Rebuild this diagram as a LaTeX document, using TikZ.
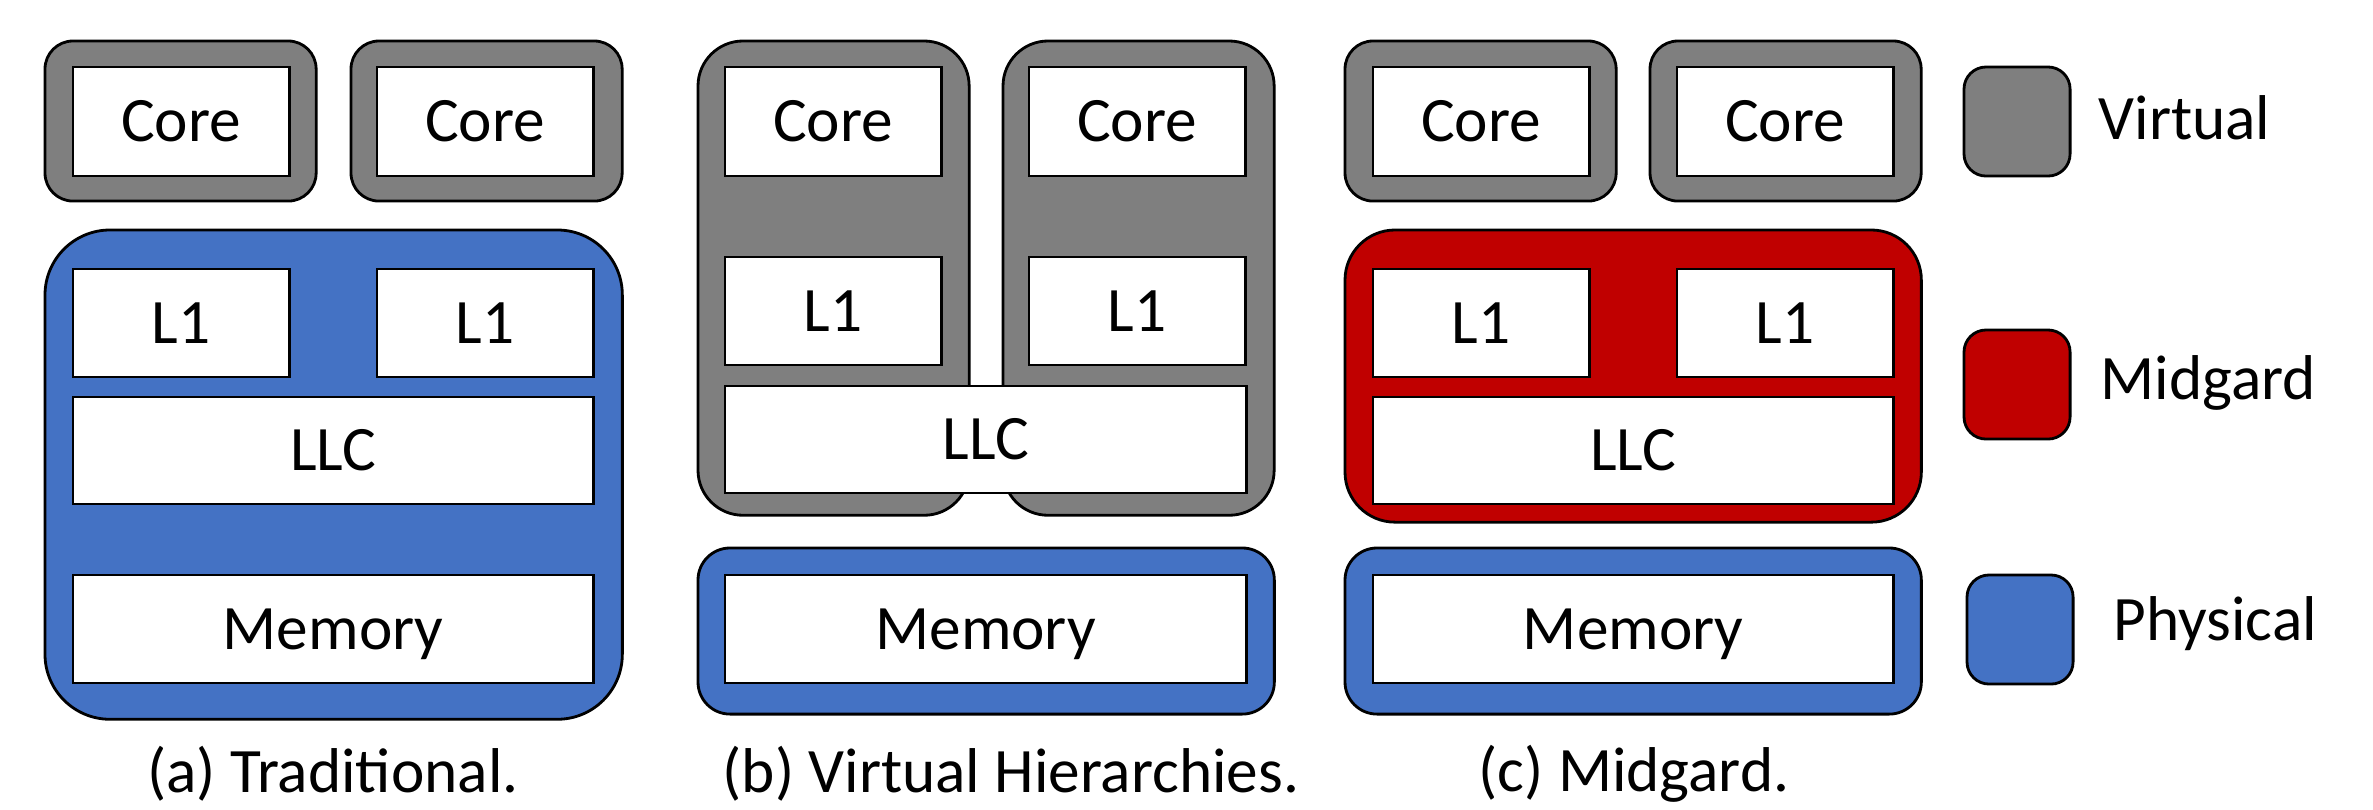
\documentclass[tikz,border=0pt]{standalone}
\usepackage{fontspec}
\setmainfont{Carlito}
\definecolor{virt}{HTML}{7F7F7F}
\definecolor{phys}{HTML}{4472C4}
\definecolor{midg}{HTML}{C00000}
\begin{document}
\begin{tikzpicture}[x=0.01cm,y=-0.01cm,
  every node/.style={font=\fontsize{18}{21}\selectfont},
  region/.style={draw=black,line width=0.8pt,inner sep=0pt,outer sep=0pt,anchor=north west},
  vreg/.style={region,fill=virt},
  preg/.style={region,fill=phys},
  mreg/.style={region,fill=midg},
  unit/.style={draw=black,line width=0.8pt,fill=white,inner sep=0pt,outer sep=0pt,anchor=north west,
    text height=14.4pt,text depth=3pt},
  corebox/.style={unit,minimum width=2.16cm,minimum height=1.09cm},
  l1box/.style={unit,minimum width=2.16cm,minimum height=1.08cm},
  widebox/.style={unit,minimum width=5.20cm,minimum height=1.08cm},
  caption/.style={inner sep=0pt},
  legtext/.style={inner sep=0pt,anchor=west}]
\useasboundingbox (0,0) rectangle (2373,810);

% ---------- (a) Traditional ----------
\node[vreg,rounded corners=0.28cm,minimum width=2.71cm,minimum height=1.60cm] (avl) at (45,41) {};
\node[vreg,rounded corners=0.28cm,minimum width=2.71cm,minimum height=1.60cm] (avr) at (351,41) {};
\node[corebox] (acorel) at (73,67) {Core};
\node[corebox] (acorer) at (377,67) {Core};
\node[preg,rounded corners=0.65cm,minimum width=5.77cm,minimum height=4.89cm] (aphys) at (45,230) {};
\node[l1box] (al1l) at (73,269) {L1};
\node[l1box] (al1r) at (377,269) {L1};
\node[widebox,minimum height=1.07cm] (allc) at (73,397) {LLC};
\node[widebox] (amem) at (73,575) {Memory};
\node[caption] (acap) at (333,774) {(a) Traditional.};

% ---------- (b) Virtual Hierarchies ----------
\node[vreg,rounded corners=0.45cm,minimum width=2.71cm,minimum height=4.74cm] (bvl) at (698,41) {};
\node[vreg,rounded corners=0.45cm,minimum width=2.71cm,minimum height=4.74cm] (bvr) at (1003,41) {};
\node[corebox] (bcorel) at (725,67) {Core};
\node[corebox] (bcorer) at (1029,67) {Core};
\node[l1box] (bl1l) at (725,257) {L1};
\node[l1box] (bl1r) at (1029,257) {L1};
\node[widebox,minimum width=5.21cm,minimum height=1.07cm] (bllc) at (725,386) {LLC};
\node[preg,rounded corners=0.32cm,minimum width=5.76cm,minimum height=1.66cm] (bphys) at (698,548) {};
\node[widebox,minimum width=5.21cm] (bmem) at (725,575) {Memory};
\node[caption] (bcap) at (1011,774) {(b) Virtual Hierarchies.};

% ---------- (c) Midgard ----------
\node[vreg,rounded corners=0.28cm,minimum width=2.71cm,minimum height=1.60cm] (cvl) at (1345,41) {};
\node[vreg,rounded corners=0.28cm,minimum width=2.71cm,minimum height=1.60cm] (cvr) at (1650,41) {};
\node[corebox] (ccorel) at (1373,67) {Core};
\node[corebox] (ccorer) at (1677,67) {Core};
\node[mreg,rounded corners=0.50cm,minimum width=5.76cm,minimum height=2.92cm] (cmid) at (1345,230) {};
\node[l1box] (cl1l) at (1373,269) {L1};
\node[l1box] (cl1r) at (1677,269) {L1};
\node[widebox,minimum height=1.07cm] (cllc) at (1373,397) {LLC};
\node[preg,rounded corners=0.32cm,minimum width=5.76cm,minimum height=1.66cm] (cphys) at (1345,548) {};
\node[widebox] (cmem) at (1373,575) {Memory};
\node[caption] (ccap) at (1634,774) {(c) Midgard.};

% ---------- legend ----------
\node[vreg,rounded corners=0.22cm,minimum width=1.06cm,minimum height=1.09cm] (kvirt) at (1964,67) {};
\node[mreg,rounded corners=0.22cm,minimum width=1.06cm,minimum height=1.09cm] (kmid) at (1964,330) {};
\node[preg,rounded corners=0.22cm,minimum width=1.06cm,minimum height=1.09cm] (kphys) at (1967,575) {};
\node[legtext] (tvirt) at (2098,118) {Virtual};
\node[legtext] (tmid) at (2100,383) {Midgard};
\node[legtext] (tphys) at (2113,624) {Physical};
\end{tikzpicture}
\end{document}
